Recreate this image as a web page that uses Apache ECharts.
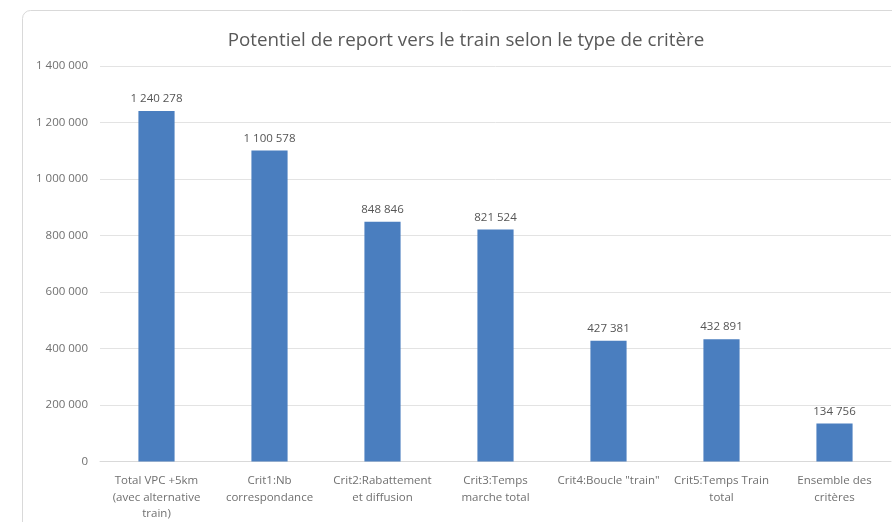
<!DOCTYPE html>
<html>
<head>
<meta charset="utf-8">
<script src="https://cdn.jsdelivr.net/npm/echarts@6/dist/echarts.min.js"></script>
<style>
  html, body { margin: 0; padding: 0; background: #ffffff; }
  #chart { width: 892px; height: 522px; }
</style>
</head>
<body>
<div id="chart"></div>
<script>
const chartTitle = 'Potentiel de report vers le train selon le type de critère';

const categories = [
  'Total VPC +5km\n(avec alternative\ntrain)',
  'Crit1:Nb\ncorrespondance',
  'Crit2:Rabattement\net diffusion',
  'Crit3:Temps\nmarche total',
  'Crit4:Boucle "train"',
  'Crit5:Temps Train\ntotal',
  'Ensemble des\ncritères'
];

const values = [1240278, 1100578, 848846, 821524, 427381, 432891, 134756];

const yMin = 0;
const yMax = 1400000;
const yStep = 200000;

// French-style thousands grouping with spaces
function groupThousands(v) {
  return String(Math.round(v)).replace(/\B(?=(\d{3})+(?!\d))/g, ' ');
}

const font = '"Open Sans", "Liberation Sans", sans-serif';

const chart = echarts.init(document.getElementById('chart'), null, { renderer: 'canvas' });

chart.setOption({
  backgroundColor: '#ffffff',
  animation: false,
  graphic: [{
    type: 'rect',
    shape: { x: 22.5, y: 10.5, width: 900, height: 540, r: 8 },
    style: { fill: 'none', stroke: '#d9d9d9', lineWidth: 1 },
    silent: true,
    z: -1
  }],
  title: {
    text: chartTitle,
    left: 461,
    textAlign: 'center',
    top: 26,
    textStyle: { fontFamily: font, fontSize: 18.8, fontWeight: 'normal', color: '#595959' }
  },
  grid: { left: 100, right: 1, top: 66, bottom: 59, containLabel: false },
  xAxis: {
    type: 'category',
    data: categories,
    axisLine: { show: true, lineStyle: { color: '#d9d9d9', width: 1 } },
    axisTick: { show: false },
    axisLabel: {
      interval: 0,
      margin: 11,
      lineHeight: 16.5,
      fontFamily: font,
      fontSize: 11.5,
      color: '#707070'
    }
  },
  yAxis: {
    type: 'value',
    min: yMin,
    max: yMax,
    interval: yStep,
    axisLine: { show: false },
    axisTick: { show: false },
    splitLine: { lineStyle: { color: '#e3e3e3', width: 1 } },
    axisLabel: {
      margin: 12,
      fontFamily: font,
      fontSize: 11.5,
      color: '#707070',
      formatter: groupThousands
    }
  },
  series: [{
    type: 'bar',
    data: values,
    barCategoryGap: '68%',
    itemStyle: { color: '#4a7ebf' },
    label: {
      show: true,
      position: 'top',
      distance: 6,
      fontFamily: font,
      fontSize: 11.5,
      color: '#555555',
      formatter: p => groupThousands(p.value)
    }
  }]
});
</script>
</body>
</html>
